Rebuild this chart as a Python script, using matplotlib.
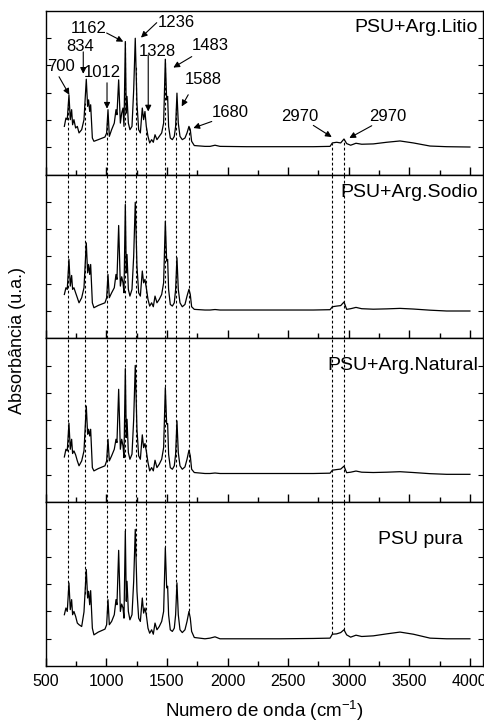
import matplotlib
matplotlib.use("Agg")
import matplotlib.pyplot as plt
import numpy as np

plt.rcParams['font.family'] = ['Liberation Sans', 'DejaVu Sans']
plt.rcParams['mathtext.fontset'] = 'custom'
plt.rcParams['mathtext.rm'] = 'Liberation Sans'
plt.rcParams['mathtext.default'] = 'regular'

# Wavenumbers (cm-1)
wavenumber = [654, 667, 678, 692, 703, 714, 722, 733, 747, 761, 775, 797, 816, 835, 846, 854, 863, 871,
              885, 898, 934, 989, 1003, 1014, 1025, 1044, 1066, 1080, 1088, 1102, 1116, 1127, 1138, 1146,
              1157, 1165, 1171, 1182, 1195, 1212, 1226, 1239, 1253, 1267, 1281, 1297, 1308, 1319, 1330,
              1344, 1358, 1374, 1388, 1402, 1418, 1437, 1457, 1473, 1487, 1498, 1506, 1514, 1528, 1545,
              1561, 1572, 1583, 1594, 1608, 1627, 1649, 1666, 1682, 1693, 1704, 1726, 1814,
              1856, 1897, 1938, 2158, 2433, 2708, 2846, 2865, 2900, 2934, 2961, 2983, 3016, 3060, 3107,
              3203, 3313, 3423, 3533, 3671, 3808, 4000]

abs_litio = [0.294, 0.345, 0.335, 0.487, 0.335, 0.396, 0.304, 0.335, 0.284, 0.294, 0.254, 0.274, 0.335,
             0.582, 0.416, 0.456, 0.385, 0.426, 0.223, 0.203, 0.213, 0.229, 0.254, 0.396, 0.233, 0.274,
             0.314, 0.396, 0.365, 0.578, 0.314, 0.375, 0.406, 0.294, 0.812, 0.375, 0.477, 0.314, 0.274,
             0.294, 0.517, 0.832, 0.436, 0.274, 0.254, 0.406, 0.335, 0.385, 0.294, 0.233, 0.193, 0.213,
             0.197, 0.243, 0.213, 0.233, 0.254, 0.314, 0.704, 0.456, 0.477, 0.294, 0.223, 0.213, 0.233,
             0.294, 0.497, 0.314, 0.233, 0.213, 0.223, 0.254, 0.294, 0.274, 0.203, 0.177, 0.172,
             0.172, 0.179, 0.172, 0.170, 0.170, 0.170, 0.172, 0.193, 0.197, 0.193, 0.217, 0.189, 0.179,
             0.191, 0.185, 0.187, 0.197, 0.205, 0.193, 0.174, 0.170, 0.168]

abs_sodio = [0.268, 0.309, 0.299, 0.482, 0.319, 0.384, 0.299, 0.309, 0.278, 0.248, 0.217, 0.248, 0.309,
             0.583, 0.400, 0.451, 0.390, 0.451, 0.217, 0.187, 0.201, 0.217, 0.248, 0.390, 0.248, 0.278,
             0.309, 0.390, 0.360, 0.689, 0.319, 0.376, 0.339, 0.278, 0.817, 0.400, 0.512, 0.299, 0.258,
             0.299, 0.502, 0.831, 0.441, 0.278, 0.258, 0.411, 0.339, 0.360, 0.309, 0.238, 0.197, 0.217,
             0.193, 0.258, 0.217, 0.238, 0.268, 0.339, 0.715, 0.472, 0.482, 0.299, 0.207, 0.197, 0.217,
             0.299, 0.492, 0.299, 0.217, 0.193, 0.207, 0.258, 0.299, 0.268, 0.193, 0.177, 0.173,
             0.173, 0.176, 0.173, 0.173, 0.173, 0.173, 0.175, 0.193, 0.197, 0.200, 0.222, 0.177, 0.181,
             0.189, 0.181, 0.178, 0.180, 0.183, 0.179, 0.172, 0.167, 0.167]

abs_natural = [0.276, 0.323, 0.313, 0.482, 0.323, 0.384, 0.297, 0.313, 0.289, 0.252, 0.222, 0.252, 0.313,
               0.587, 0.415, 0.445, 0.404, 0.445, 0.211, 0.191, 0.205, 0.222, 0.252, 0.384, 0.252, 0.283,
               0.323, 0.384, 0.364, 0.689, 0.323, 0.384, 0.343, 0.272, 0.815, 0.394, 0.506, 0.303, 0.262,
               0.293, 0.506, 0.835, 0.445, 0.283, 0.262, 0.411, 0.333, 0.358, 0.313, 0.242, 0.191, 0.211,
               0.191, 0.256, 0.211, 0.232, 0.262, 0.333, 0.699, 0.476, 0.480, 0.293, 0.211, 0.201, 0.222,
               0.293, 0.496, 0.303, 0.222, 0.201, 0.215, 0.262, 0.317, 0.283, 0.201, 0.181, 0.175,
               0.175, 0.178, 0.175, 0.175, 0.175, 0.175, 0.177, 0.195, 0.199, 0.202, 0.220, 0.180, 0.183,
               0.190, 0.183, 0.181, 0.183, 0.186, 0.181, 0.174, 0.170, 0.170]

abs_pura = [0.313, 0.354, 0.333, 0.507, 0.344, 0.405, 0.313, 0.333, 0.303, 0.262, 0.252, 0.241, 0.330,
            0.589, 0.415, 0.456, 0.374, 0.460, 0.231, 0.190, 0.207, 0.225, 0.252, 0.405, 0.252, 0.272,
            0.313, 0.405, 0.374, 0.706, 0.333, 0.378, 0.354, 0.292, 0.824, 0.395, 0.517, 0.333, 0.282,
            0.313, 0.517, 0.834, 0.456, 0.292, 0.272, 0.415, 0.323, 0.354, 0.313, 0.231, 0.200, 0.221,
            0.194, 0.262, 0.221, 0.241, 0.272, 0.333, 0.722, 0.477, 0.487, 0.313, 0.221, 0.211, 0.231,
            0.313, 0.507, 0.313, 0.221, 0.204, 0.221, 0.272, 0.333, 0.292, 0.211, 0.174, 0.166,
            0.170, 0.178, 0.166, 0.166, 0.166, 0.168, 0.170, 0.194, 0.196, 0.204, 0.221, 0.190, 0.176,
            0.188, 0.180, 0.184, 0.196, 0.207, 0.194, 0.170, 0.166, 0.166]

spectra = [abs_litio, abs_sodio, abs_natural, abs_pura]
sample_labels = ["PSU+Arg.Litio", "PSU+Arg.Sodio", "PSU+Arg.Natural", "PSU pura"]

# Reference band positions (dashed guide lines)
band_lines = [687, 824, 1008, 1157, 1245, 1330, 1487, 1578, 1682, 2865, 2960]

# Annotations on top panel: label, text pos, arrow tail, arrow tip
ann_labels = ["700", "834", "1012", "1162", "1236", "1328", "1483", "1588", "1680", "2970", "2970"]
ann_text = [(626, 0.657), (783, 0.779), (969, 0.624), (857, 0.892), (1579, 0.928), (1422, 0.752),
            (1860, 0.785), (1798, 0.578), (2020, 0.380), (2598, 0.356), (3324, 0.356)]
ann_tail = [(610, 0.597), (810, 0.749), (1006, 0.560), (1003, 0.864), (1416, 0.927), (1346, 0.730),
            (1705, 0.720), (1676, 0.487), (1870, 0.324), (2708, 0.300), (3190, 0.298)]
ann_tip = [(695, 0.487), (810, 0.615), (1006, 0.402), (1140, 0.811), (1286, 0.836), (1346, 0.385),
           (1553, 0.653), (1622, 0.416), (1718, 0.284), (2860, 0.229), (3005, 0.223)]

label_pos = [(0.989, 0.898, 'right'), (0.989, 0.890, 'right'), (0.989, 0.835, 'right'), (0.954, 0.773, 'right')]

fig = plt.figure(figsize=(4.85, 7.25), dpi=100)
gs = fig.add_gridspec(4, 1, left=0.0942, right=0.9959, bottom=0.0814, top=0.9852, hspace=0)
axes = [fig.add_subplot(gs[i]) for i in range(4)]

for i, ax in enumerate(axes):
    y = spectra[i]
    ax.plot(wavenumber, y, color='black', lw=0.9)
    ax.set_xlim(500, 4108)
    ax.set_ylim(0, 1)
    for bx in band_lines:
        if i == 0:
            y0, y1 = 0, np.interp(bx, wavenumber, y)
        elif i == 3:
            y0, y1 = np.interp(bx, wavenumber, y), 1
        else:
            y0, y1 = 0, 1
        ax.plot([bx, bx], [y0, y1], color='black', lw=0.8, linestyle=(0, (2.5, 2)))
    ax.set_xticks(np.arange(500, 4001, 500))
    ax.set_xticks(np.arange(750, 4001, 500), minor=True)
    ax.set_yticks(np.arange(1, 6) / 6)
    ax.tick_params(axis='x', which='major', direction='in', length=6, width=1, top=False, labelsize=11.5, pad=6)
    ax.tick_params(axis='x', which='minor', direction='in', length=3.5, width=1, top=False)
    ax.tick_params(axis='y', which='major', direction='in', length=3.5, width=0.8, left=True, right=True,
                   labelleft=False)
    if i < 3:
        ax.tick_params(axis='x', labelbottom=False)
    for s in ax.spines.values():
        s.set_linewidth(1.0)
    tx, ty, ha = label_pos[i]
    ax.text(tx, ty, sample_labels[i], transform=ax.transAxes, ha=ha, va='center', fontsize=14)

ax0 = axes[0]
for lab, tp, tl, tip in zip(ann_labels, ann_text, ann_tail, ann_tip):
    ax0.text(tp[0], tp[1], lab, ha='center', va='center', fontsize=12)
    ax0.annotate('', xy=tip, xytext=tl,
                 arrowprops=dict(arrowstyle='-|>', color='black', lw=0.8, mutation_scale=9,
                                 shrinkA=0, shrinkB=0))

fig.text(0.0371, 0.531, "Absorbância (u.a.)", rotation=90, ha='center', va='center', fontsize=13)
fig.text(0.545, 0.019, "Numero de onda (cm$^{-1}$)", ha='center', va='center', fontsize=13.5)

fig.savefig("out.png", dpi=100)
